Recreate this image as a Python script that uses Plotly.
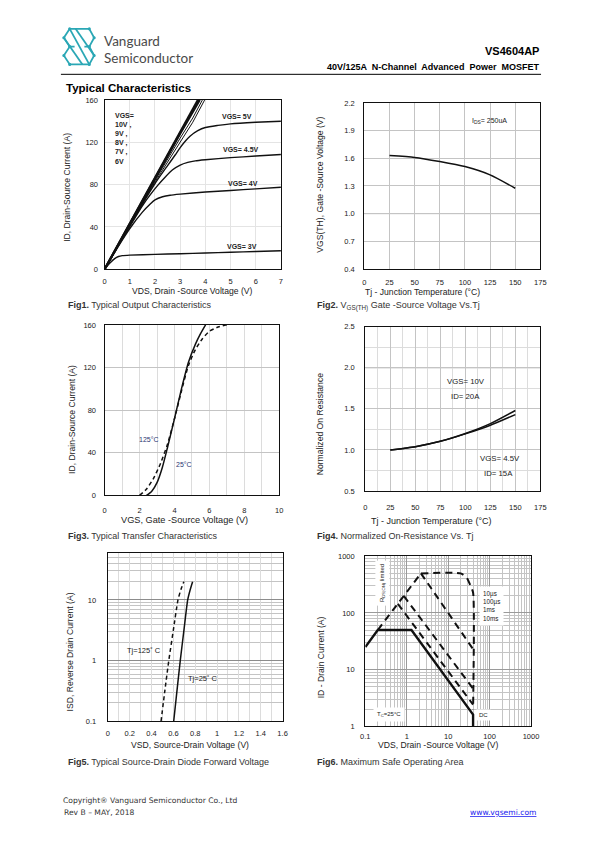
import numpy as np
import plotly.graph_objects as go

# page is 595x842; the html body has an 8px default margin, so the figure is offset
OFF = 8
FW, FH = 595 - OFF, 842 - OFF

# ---------------- DATA ----------------
# Fig1 output characteristics (VDS in V, ID in A)
f1_vgs10_x = [0, 1, 2, 3, 3.70]
f1_vgs10_y = [0, 43.5, 87, 130, 160]
f1_vgs9_x = [0, 1, 2, 3, 3.74]
f1_vgs9_y = [0, 43.2, 86.4, 129, 160]
f1_vgs8_x = [0, 1, 2, 3, 3.78]
f1_vgs8_y = [0, 43, 86, 128, 160]
f1_vgs7_x = [0, 1, 2, 3, 3.5, 3.88]
f1_vgs7_y = [0, 42.5, 84, 124, 143, 160]
f1_vgs6_x = [0, 1, 2, 3, 3.5, 3.97]
f1_vgs6_y = [0, 42, 82.5, 121, 139, 160]
f1_vgs5_x = [0, 1, 2, 2.5, 2.8, 3.0, 3.2, 3.4, 3.7, 4.0, 4.5, 5, 6, 7]
f1_vgs5_y = [0, 41.5, 81, 98, 108, 115, 121, 126, 131, 134, 136, 137.5, 139, 140]
f1_vgs45_x = [0, 1, 1.5, 1.8, 2.1, 2.4, 2.7, 3.0, 3.3, 3.6, 4, 5, 6, 7]
f1_vgs45_y = [0, 40.5, 60, 70, 79, 87, 94, 98.5, 101, 102.5, 103.5, 105.5, 107, 108.5]
f1_vgs4_x = [0, 0.5, 1, 1.5, 1.8, 2.0, 2.3, 2.6, 3, 4, 5, 6, 7]
f1_vgs4_y = [0, 20, 38.5, 54, 61.5, 65.5, 68.5, 70, 71, 73, 74.5, 76, 77.5]
f1_vgs3_x = [0, 0.2, 0.4, 0.55, 0.7, 1, 2, 3, 4, 5, 6, 7]
f1_vgs3_y = [0, 5.5, 10, 12, 12.8, 13.3, 14, 14.6, 15.3, 16, 16.8, 17.5]

# Fig2 threshold voltage vs Tj
f2_tj = [25, 50, 75, 100, 125, 150]
f2_vth = [1.63, 1.61, 1.565, 1.51, 1.42, 1.275]

# Fig3 transfer characteristics
f3_vgs_25 = [2.4, 2.7, 3.0, 3.3, 3.6, 4.0, 4.4, 4.8, 5.2, 5.5, 5.78]
f3_id_25 = [0, 4, 12, 26, 45, 72, 100, 125, 142, 152, 160]
f3_vgs_125 = [2.0, 2.4, 2.8, 3.2, 3.6, 4.0, 4.4, 4.8, 5.2, 5.6, 6.0, 6.5, 7.0]
f3_id_125 = [0, 6, 16, 30, 48, 72, 98, 122, 137, 147, 154, 158, 160]

# Fig4 normalized on-resistance
f4_tj = [25, 50, 75, 100, 125, 150]
f4_r_10v = [1.0, 1.04, 1.105, 1.2, 1.32, 1.48]
f4_r_45v = [1.0, 1.04, 1.105, 1.195, 1.30, 1.43]

# Fig5 body diode forward voltage
f5_vsd_25 = [0.603, 0.633, 0.663, 0.697, 0.731, 0.755, 0.776]
f5_vsd_125 = [0.487, 0.522, 0.558, 0.600, 0.642, 0.670, 0.696]
f5_isd = [0.1, 0.32, 1, 3.2, 10, 15, 20]

# Fig6 safe operating area
f6_dc_v = [0.1, 0.2, 1.3, 40, 40]
f6_dc_i = [25, 50, 50, 1.6, 1]
f6_rds_v = [0.2, 2.2]
f6_rds_i = [50, 500]
f6_10us_v = [2.2, 20, 28, 35, 40, 40]
f6_10us_i = [500, 500, 420, 300, 230, 2.0]
f6_100us_v = [2.2, 40]
f6_100us_i = [500, 23]
f6_1ms_v = [0.85, 40]
f6_1ms_i = [200, 4.6]
f6_10ms_v = [0.61, 40]
f6_10ms_i = [145, 2.4]

# ---------------- HELPERS ----------------
def px(x):
    return (x - OFF) / FW

def py(y):
    return 1 - (y - OFF) / FH

TICKFONT = dict(family="Liberation Sans Narrow, Arial Narrow, Liberation Sans, sans-serif", size=7.5, color="#1a1a1a")
TITLEFONT = dict(family="Liberation Sans, Arial, sans-serif", size=8.6, color="#222")
LBLFONT = dict(family="Liberation Sans Narrow, Arial Narrow, Liberation Sans, sans-serif", size=7.5, color="#222")

fig = go.Figure()
layout = dict(width=FW, height=FH, margin=dict(l=0, r=0, t=0, b=0),
              paper_bgcolor="white", plot_bgcolor="white", showlegend=False)
annotations = []
shapes = []


def add_axes(i, xr, yr, xpx, ypx, xkw, ykw):
    sx = "" if i == 1 else str(i)
    base = dict(showline=True, mirror=True, linecolor="#111", linewidth=1.3,
                ticks="", zeroline=False, tickfont=TICKFONT, fixedrange=True)
    xa = dict(base, domain=[px(xpx[0]), px(xpx[1])], anchor="y" + sx, range=xr)
    xa.update(xkw)
    ya = dict(base, domain=[py(ypx[1]), py(ypx[0])], anchor="x" + sx, range=yr)
    ya.update(ykw)
    layout["xaxis" + sx] = xa
    layout["yaxis" + sx] = ya


def line(i, x, y, width=1.5, dash="solid", shape="spline", color="#111"):
    sx = "" if i == 1 else str(i)
    fig.add_trace(go.Scatter(x=x, y=y, mode="lines", xaxis="x" + sx, yaxis="y" + sx,
                             line=dict(color=color, width=width, dash=dash, shape=shape,
                                       smoothing=0.6), hoverinfo="skip"))


def text(x, y, s, size=8.6, xanchor="center", yanchor="middle", angle=0, font=None, color="#222", **kw):
    f = dict(font or TITLEFONT)
    f["size"] = size
    f["color"] = color
    annotations.append(dict(x=px(x), y=py(y), xref="paper", yref="paper", text=s, showarrow=False,
                            xanchor=xanchor, yanchor=yanchor, textangle=angle, font=f, **kw))


def dlabel(i, x, y, s, size=7.5, xanchor="center", color="#222", **kw):
    sx = "" if i == 1 else str(i)
    f = dict(LBLFONT)
    f["size"] = size
    f["color"] = color
    annotations.append(dict(x=x, y=y, xref="x" + sx, yref="y" + sx, text=s, showarrow=False,
                            xanchor=xanchor, yanchor="middle", font=f, **kw))

GRID_L = "#dcdcdc"
GRID_M = "#c4c4c4"
GRID_D = "#8c8c8c"

# ---------------- FIG 1 ----------------
add_axes(1, [0, 7], [0, 160], (101.7, 282), (97, 268),
         dict(dtick=1, showgrid=True, gridcolor="#e4e4e4", ticklabelstandoff=5),
         dict(dtick=40, showgrid=True, gridcolor="#e4e4e4", ticklabelstandoff=4))
for xs, ys, w in [(f1_vgs10_x, f1_vgs10_y, 2.2), (f1_vgs9_x, f1_vgs9_y, 2.0), (f1_vgs8_x, f1_vgs8_y, 2.0),
                  (f1_vgs7_x, f1_vgs7_y, 1.0), (f1_vgs6_x, f1_vgs6_y, 1.0)]:
    line(1, xs, ys, width=w, shape="linear")
for xs, ys in [(f1_vgs5_x, f1_vgs5_y), (f1_vgs45_x, f1_vgs45_y), (f1_vgs4_x, f1_vgs4_y), (f1_vgs3_x, f1_vgs3_y)]:
    line(1, xs, ys, width=1.4)
dlabel(1, 5.25, 144, "<b>VGS= 5V</b>", size=7)
dlabel(1, 5.4, 113, "<b>VGS= 4.5V</b>", size=7)
dlabel(1, 5.5, 81, "<b>VGS= 4V</b>", size=7)
dlabel(1, 5.45, 21, "<b>VGS= 3V</b>", size=7)
dlabel(1, 0.32, 124, "<b>VGS=<br>10V ,<br>9V ,<br>8V ,<br>7V ,<br>6V</b>", size=7, xanchor="left", align="left")
text(192, 290.5, "VDS, Drain -Source Voltage (V)")
text(63, 185, "ID, Drain-Source Current (A)", angle=-90)

# ---------------- FIG 2 ----------------
add_axes(2, [0, 175], [0.4, 2.2], (367.3, 547.3), (100, 267.7),
         dict(dtick=25, showgrid=True, gridcolor=GRID_M, ticklabelstandoff=6),
         dict(dtick=0.3, tick0=0.4, tickformat=".1f", showgrid=True, gridcolor=GRID_M, ticklabelstandoff=7))
shapes.append(dict(type="line", xref="x2 domain", yref="y2", x0=0, x1=1, y0=1.0, y1=1.0,
                   line=dict(color=GRID_D, width=1), layer="below"))
line(2, f2_tj, f2_vth, width=1.5)
dlabel(2, 124, 2.0, "I<sub>DS</sub>= 250uA", size=7)
text(427, 291, "Tj - Junction Temperature (°C)")
text(322.5, 183, "VGS(TH), Gate -Source Voltage (V)", angle=-90)

# ---------------- FIG 3 ----------------
add_axes(3, [0, 10], [0, 160], (101.7, 280.3), (324.3, 496.7),
         dict(dtick=2, showgrid=True, gridcolor=GRID_L, ticklabelstandoff=7,
              minor=dict(dtick=1, showgrid=True, gridcolor=GRID_L)),
         dict(dtick=40, showgrid=True, gridcolor=GRID_M, ticklabelstandoff=6))
line(3, f3_vgs_25, f3_id_25, width=1.5)
line(3, f3_vgs_125, f3_id_125, width=1.5, dash="4px,3px")
dlabel(3, 2.55, 52, "125°C", size=7, color="#2a3570")
dlabel(3, 4.55, 29, "25°C", size=7, color="#2a3570")
text(183, 522, "VGS, Gate -Source Voltage (V)", size=9.2)
text(67.7, 420, "ID, Drain-Source Current (A)", angle=-90)

# ---------------- FIG 4 ----------------
add_axes(4, [0, 175], [0.5, 2.5], (368.3, 547.3), (326, 492.3),
         dict(dtick=25, showgrid=True, gridcolor=GRID_M, ticklabelstandoff=9,
              minor=dict(dtick=12.5, showgrid=True, gridcolor=GRID_L)),
         dict(dtick=0.5, tick0=0.5, tickformat=".1f", showgrid=True, gridcolor=GRID_M, ticklabelstandoff=8,
              minor=dict(dtick=0.25, showgrid=True, gridcolor=GRID_L)))
shapes.append(dict(type="line", xref="x4 domain", yref="y4", x0=0, x1=1, y0=2.0, y1=2.0,
                   line=dict(color=GRID_D, width=1), layer="below"))
line(4, f4_tj, f4_r_10v, width=1.5)
line(4, f4_tj, f4_r_45v, width=1.5)
dlabel(4, 101, 1.83, "VGS= 10V", size=7.8)
dlabel(4, 100, 1.65, "ID= 20A", size=7.8)
dlabel(4, 135, 0.89, "VGS= 4.5V", size=7.8)
dlabel(4, 133, 0.71, "ID= 15A", size=7.8)
text(435.5, 523, "Tj - Junction Temperature (°C)", size=9)
text(321.7, 425, "Normalized On Resistance", angle=-90)

# ---------------- FIG 5 ----------------
add_axes(5, [0, 1.6], [-1, 1.772], (105, 283.7), (555, 725),
         dict(dtick=0.2, showgrid=True, gridcolor=GRID_L, ticklabelstandoff=5,
              minor=dict(dtick=0.1, showgrid=True, gridcolor=GRID_L)),
         dict(type="log", tickvals=[0.1, 1, 10], ticktext=["0.1", "1", "10"], showgrid=True,
              gridcolor=GRID_D, ticklabelstandoff=9,
              minor=dict(tickvals=[0.2, 0.3, 0.4, 0.5, 0.6, 0.7, 0.8, 0.9, 2, 3, 4, 5, 6, 7, 8, 9,
                                   20, 30, 40, 50],
                         showgrid=True, gridcolor=GRID_M)))
line(5, f5_vsd_125, f5_isd, width=1.5, dash="4px,3px")
line(5, f5_vsd_25, f5_isd, width=1.5)
dlabel(5, 0.335, np.log10(1.47), "Tj=125˚ C", size=7.5)
dlabel(5, 0.87, np.log10(0.51), "Tj=25˚ C", size=7.5)
text(189, 749.5, "VSD, Source-Drain Voltage (V)")
text(66.7, 655, "ISD, Reverse Drain Current (A)", angle=-90)

# ---------------- FIG 6 ----------------
minor_dec = lambda lo, hi: [m * 10 ** e for e in range(lo, hi) for m in range(2, 10)]
add_axes(6, [-1, 3], [0, 3], (368.3, 537.7), (558.3, 730),
         dict(type="log", tickvals=[0.1, 1, 10, 100, 1000], ticktext=["0.1", "1", "10", "100", "1000"],
              showgrid=True, gridcolor="#9a9a9a", ticklabelstandoff=3,
              minor=dict(tickvals=minor_dec(-1, 3), showgrid=True, gridcolor=GRID_M)),
         dict(type="log", tickvals=[1, 10, 100, 1000], ticktext=["1", "10", "100", "1000"],
              showgrid=True, gridcolor="#9a9a9a", ticklabelstandoff=8,
              minor=dict(tickvals=minor_dec(0, 3), showgrid=True, gridcolor=GRID_M)))
SOA_DASH = "7px,5px"
line(6, f6_rds_v, f6_rds_i, width=2, dash=SOA_DASH, shape="linear")
line(6, f6_10us_v, f6_10us_i, width=2, dash=SOA_DASH, shape="spline")
line(6, f6_100us_v, f6_100us_i, width=2, dash=SOA_DASH, shape="linear")
line(6, f6_1ms_v, f6_1ms_i, width=2, dash=SOA_DASH, shape="linear")
line(6, f6_10ms_v, f6_10ms_i, width=2, dash=SOA_DASH, shape="linear")
line(6, f6_dc_v, f6_dc_i, width=2.4, shape="linear")
dlabel(6, np.log10(55), np.log10(135), "10µs<br>100µs<br>1ms<br>10ms", size=6.3, xanchor="left",
       align="left", bgcolor="white", borderpad=3)
dlabel(6, np.log10(0.26), np.log10(330), "R<sub>DS(ON)</sub> limited", size=6, textangle=-90,
       bgcolor="white", borderpad=3)
dlabel(6, np.log10(0.38), np.log10(1.6), "T<sub>C</sub>=25°C", size=6, bgcolor="white", borderpad=3)
dlabel(6, np.log10(70), np.log10(1.6), "DC", size=6, bgcolor="white", borderpad=2)
text(442.8, 749.5, "VDS, Drain -Source Voltage (V)")
text(323.3, 660, "ID - Drain Current (A)", angle=-90)

# ---------------- CAPTIONS ----------------
CAPFONT = dict(family="Liberation Sans, Arial, sans-serif", size=9, color="#333")
text(62, 304, "<b>Fig1.</b> Typical Output Characteristics", size=9, xanchor="left", font=CAPFONT, color="#333")
text(317, 305, "<b>Fig2.</b> V<sub>GS(TH)</sub> Gate -Source Voltage Vs.Tj", size=9, xanchor="left", font=CAPFONT, color="#333")
text(62, 538, "<b>Fig3.</b> Typical Transfer Characteristics", size=9, xanchor="left", font=CAPFONT, color="#333")
text(317, 538, "<b>Fig4.</b> Normalized On-Resistance Vs. Tj", size=9, xanchor="left", font=CAPFONT, color="#333")
text(62, 766, "<b>Fig5.</b> Typical Source-Drain Diode Forward Voltage", size=9, xanchor="left", font=CAPFONT, color="#333")
text(317, 766, "<b>Fig6.</b> Maximum Safe Operating Area", size=9, xanchor="left", font=CAPFONT, color="#333")

# ---------------- HEADER ----------------
HFONT = dict(family="Liberation Sans, Arial, sans-serif", size=11, color="#000")
text(548, 47, "<b>VS4604AP</b>", size=11, xanchor="right", font=HFONT, color="#000")
text(548, 64, "<b>40V/125A  N-Channel  Advanced  Power  MOSFET</b>", size=9, xanchor="right", font=HFONT, color="#000")
shapes.append(dict(type="line", xref="paper", yref="paper", x0=px(57), x1=px(548), y0=py(71), y1=py(71),
                   line=dict(color="#000", width=1)))
text(60, 85, "<b>Typical Characteristics</b>", size=11.5, xanchor="left", font=HFONT, color="#000")
LOGOFONT = dict(family="Lato, Open Sans, sans-serif", size=13.5, color="#4a4a4a")
text(99, 37.5, "Vanguard", size=13.5, xanchor="left", font=LOGOFONT, color="#4a4a4a")
text(99, 54.5, "Semiconductor", size=13.5, xanchor="left", font=LOGOFONT, color="#4a4a4a")

TEAL = "#2aa7b5"
logo_paths = [
    [(66, 25), (86, 25), (91, 34), (86, 43)],
    [(66, 25), (60, 34), (66, 43), (71, 43)],
    [(66, 25), (86, 61)],
    [(72, 25), (91, 52)],
    [(60, 34), (79, 61)],
    [(86, 61), (66, 61), (60, 52), (66, 43)],
    [(86, 61), (91, 52), (86, 43), (81, 43)],
]
for pts in logo_paths:
    d = "M " + " L ".join(f"{px(a):.5f},{py(b):.5f}" for a, b in pts)
    shapes.append(dict(type="path", xref="paper", yref="paper", path=d, line=dict(color=TEAL, width=1.8)))
for a, b in [(66, 25), (86, 25), (91, 34), (60, 34), (86, 43), (66, 43), (91, 52), (60, 52), (66, 61), (86, 61)]:
    shapes.append(dict(type="circle", xref="paper", yref="paper", x0=px(a - 1.6), x1=px(a + 1.6),
                       y0=py(b + 1.6), y1=py(b - 1.6), fillcolor=TEAL, line=dict(width=0)))

# ---------------- FOOTER ----------------
FFONT = dict(family="DejaVu Sans, sans-serif", size=7.6, color="#333")
text(57, 805, "Copyright® Vanguard Semiconductor Co., Ltd", size=7.6, xanchor="left", font=FFONT, color="#333")
text(58, 817, "Rev B – MAY, 2018", size=7.6, xanchor="left", font=FFONT, color="#333")
text(545, 817, "<u>www.vgsemi.com</u>", size=7.6, xanchor="right", font=FFONT, color="#1a1aee")

layout["annotations"] = annotations
layout["shapes"] = shapes
fig.update_layout(**layout)
fig.write_html("out.html")
